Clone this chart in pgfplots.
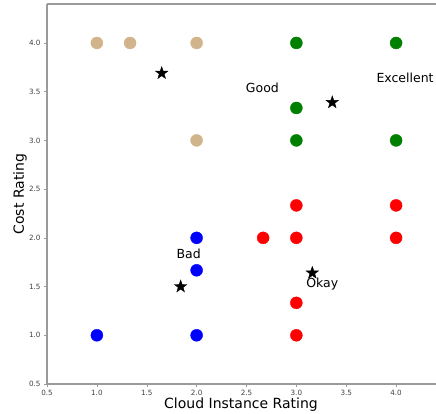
\documentclass[border=0pt]{standalone}
\usepackage{pgfplots}
\pgfplotsset{compat=1.18}
\usepackage{fontspec}
\setmainfont{DejaVu Sans}
\definecolor{tanc}{HTML}{D2B48C}
\definecolor{gspine}{HTML}{9A9A9A}
\pgfdeclareplotmark{fstar}{%
  \pgfpathmoveto{\pgfpointpolar{90}{\pgfplotmarksize}}%
  \pgfpathlineto{\pgfpointpolar{126}{0.4\pgfplotmarksize}}%
  \pgfpathlineto{\pgfpointpolar{162}{\pgfplotmarksize}}%
  \pgfpathlineto{\pgfpointpolar{198}{0.4\pgfplotmarksize}}%
  \pgfpathlineto{\pgfpointpolar{234}{\pgfplotmarksize}}%
  \pgfpathlineto{\pgfpointpolar{270}{0.4\pgfplotmarksize}}%
  \pgfpathlineto{\pgfpointpolar{306}{\pgfplotmarksize}}%
  \pgfpathlineto{\pgfpointpolar{342}{0.4\pgfplotmarksize}}%
  \pgfpathlineto{\pgfpointpolar{18}{\pgfplotmarksize}}%
  \pgfpathlineto{\pgfpointpolar{54}{0.4\pgfplotmarksize}}%
  \pgfpathclose\pgfusepathqfillstroke}
\begin{document}
\begin{tikzpicture}
\begin{axis}[
  at={(0,0)}, anchor=south west,
  scale only axis, width=389pt, height=380pt,
  xmin=0.5, xmax=4.4, ymin=0.5, ymax=4.4,
  xtick={0.5,1.0,...,4.0}, ytick={0.5,1.0,...,4.0},
  xticklabel style={/pgf/number format/.cd,fixed,fixed zerofill,precision=1},
  yticklabel style={/pgf/number format/.cd,fixed,fixed zerofill,precision=1},
  /pgf/number format/assume math mode=true,
  tick label style={font=\fontsize{7.2}{8}\selectfont, text=black!75},
  tick align=outside, tick style={gspine, thin}, major tick length=3pt,
  axis line style={gspine, line width=1.2pt},
  axis x line*=bottom, axis y line*=left,
  clip=false,
]
\draw[gspine, line width=1.2pt] (axis cs:0.5,4.4) -- (axis cs:4.4,4.4);
\addplot[only marks, mark=*, mark size=6pt, color=tanc] coordinates {(1,4) (1.333,4) (2,4) (2,3)};
\addplot[only marks, mark=*, mark size=6pt, color=green!50!black] coordinates {(3,4) (4,4) (3,3.333) (3,3) (4,3)};
\addplot[only marks, mark=*, mark size=6pt, color=red] coordinates {(3,2.333) (4,2.333) (2.667,2) (3,2) (4,2) (3,1.333) (3,1)};
\addplot[only marks, mark=*, mark size=6pt, color=blue] coordinates {(2,2) (2,1.667) (1,1) (2,1)};
\addplot[only marks, mark=fstar, mark size=6.5pt, color=black] coordinates {(1.65,3.69) (3.36,3.39) (1.84,1.50) (3.16,1.64)};
\node[font=\fontsize{12.5}{14}\selectfont] at (axis cs:2.66,3.54) {Good};
\node[font=\fontsize{12.5}{14}\selectfont] at (axis cs:4.09,3.64) {Excellent};
\node[font=\fontsize{12.5}{14}\selectfont] at (axis cs:1.92,1.84) {Bad};
\node[font=\fontsize{12.5}{14}\selectfont] at (axis cs:3.26,1.53) {Okay};
\end{axis}
\node[rotate=90, font=\fontsize{14}{16}\selectfont] at (-27pt,190pt) {Cost Rating};
\node[font=\fontsize{14}{16}\selectfont] at (194pt,-21pt) {Cloud Instance Rating};
\pgfresetboundingbox
\path[use as bounding box] (-47pt,-30pt) rectangle (389pt,384pt);
\end{tikzpicture}
\end{document}
